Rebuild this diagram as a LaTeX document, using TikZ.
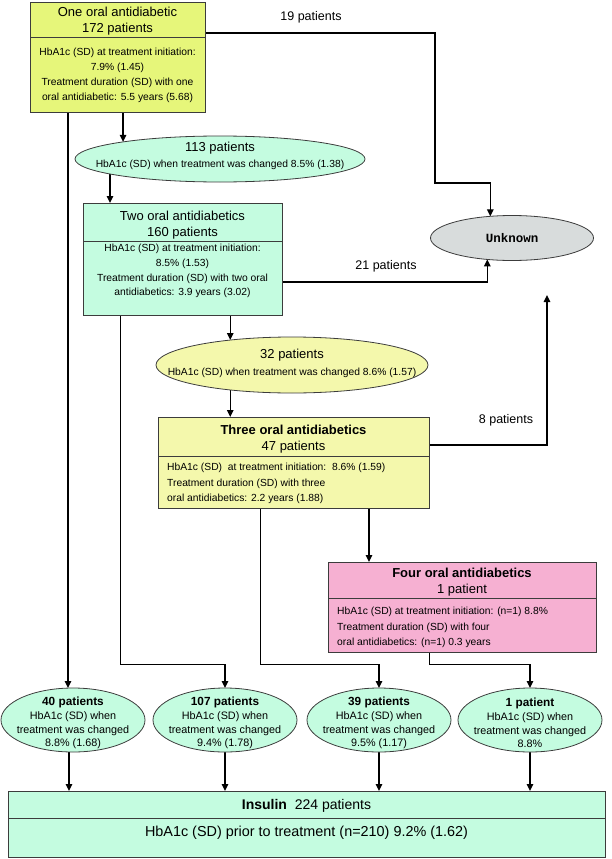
\documentclass[tikz,border=0pt]{standalone}
\usepackage{fontspec}
\setmainfont{Liberation Sans}
\newfontfamily\unkfont{Liberation Mono}
\usetikzlibrary{shapes.geometric,arrows.meta,calc}
\pgfdeclarelayer{bg}
\pgfsetlayers{bg,main}
\definecolor{cYG}{RGB}{230,246,122}
\definecolor{cMint}{RGB}{196,252,224}
\definecolor{cLY}{RGB}{244,248,172}
\definecolor{cPink}{RGB}{246,176,210}
\definecolor{cGray}{RGB}{216,220,220}
\definecolor{cEdge}{RGB}{60,60,60}
\begin{document}
\begin{tikzpicture}[x=1pt,y=-1pt,
  box/.style={draw=cEdge, line width=0.9pt, rectangle, inner sep=0pt, outer sep=0pt},
  oval/.style={draw=cEdge, line width=0.8pt, ellipse, inner sep=0pt, outer sep=0pt},
  divider/.style={draw=cEdge, line width=0.9pt},
  ttl/.style={font=\fontsize{13}{16}\selectfont, align=center, inner sep=0pt},
  bdy/.style={font=\fontsize{10.3}{15}\selectfont, align=center, inner sep=0pt},
  bdyl/.style={font=\fontsize{10.3}{15.5}\selectfont, align=left, inner sep=0pt, anchor=west},
  ovt/.style={font=\fontsize{10.8}{13.7}\selectfont, align=center, inner sep=0pt},
  conn/.style={line width=1.3pt, -{Triangle[length=7pt,width=6.5pt]}},
  thin/.style={line width=1pt},
  lbl/.style={font=\fontsize{12.5}{15}\selectfont, inner sep=0pt}
]
\useasboundingbox (0,0) rectangle (611,859);

% ---------- boxes ----------
\node[box, fill=cYG, minimum width=175pt, minimum height=110pt] (b1) at (117.5,57) {};
\draw[divider] (b1.west |- 0,37) -- (b1.east |- 0,37);
\node[ttl] (b1t) at (117.5,21) {One oral antidiabetic\\172 patients};
\node[bdy] (b1b) at (117.5,75) {HbA1c (SD) at treatment initiation:\\7.9\% (1.45)\\Treatment duration (SD) with one\\oral antidiabetic: 5.5 years (5.68)};

\node[box, fill=cMint, minimum width=199pt, minimum height=112pt] (b2) at (182.5,259) {};
\draw[divider] (b2.west |- 0,241) -- (b2.east |- 0,241);
\node[ttl] (b2t) at (182.5,225) {Two oral antidiabetics\\160 patients};
\node[bdy, font=\fontsize{10.3}{14.7}\selectfont] (b2b) at (182.5,271) {HbA1c (SD) at treatment initiation:\\8.5\% (1.53)\\Treatment duration (SD) with two oral\\antidiabetics: 3.9 years (3.02)};

\node[box, fill=cLY, minimum width=271pt, minimum height=91pt] (b3) at (293.5,462.5) {};
\draw[divider] (b3.west |- 0,456) -- (b3.east |- 0,456);
\node[ttl] (b3t) at (293.5,439) {\textbf{Three oral antidiabetics}\\47 patients};
\node[bdyl] (b3b) at (167,483.5) {HbA1c (SD)\ \ at treatment initiation:\ \ 8.6\% (1.59)\\Treatment duration (SD) with three\\oral antidiabetics: 2.2 years (1.88)};

\node[box, fill=cPink, minimum width=268pt, minimum height=90pt] (b4) at (462,607) {};
\draw[divider] (b4.west |- 0,598) -- (b4.east |- 0,598);
\node[ttl] (b4t) at (462,582.5) {\textbf{Four oral antidiabetics}\\1 patient};
\node[bdyl] (b4b) at (337,627.5) {HbA1c (SD) at treatment initiation: (n=1) 8.8\%\\Treatment duration (SD) with four\\oral antidiabetics: (n=1) 0.3 years};

\node[box, fill=cMint, minimum width=597pt, minimum height=66pt] (ins) at (306.5,824) {};
\draw[divider] (ins.west |- 0,818) -- (ins.east |- 0,818);
\node[inner sep=0pt, font=\fontsize{14}{16}\selectfont] (inst) at (306.5,806) {\textbf{Insulin}\ \ 224 patients};
\node[inner sep=0pt, font=\fontsize{14.4}{16}\selectfont] (insb) at (306.5,833) {HbA1c (SD) prior to treatment (n=210) 9.2\% (1.62)};

% ---------- ellipses ----------
\node[oval, fill=cMint, minimum width=290pt, minimum height=46pt] (e113) at (220,159) {};
\node[inner sep=0pt, align=center, font=\fontsize{10.3}{16}\selectfont] (e113t) at (220,156) {{\fontsize{13}{16}\selectfont 113 patients}\\HbA1c (SD) when treatment was changed 8.5\% (1.38)};

\node[oval, fill=cLY, minimum width=272pt, minimum height=56pt] (e32) at (292,365) {};
\node[inner sep=0pt, align=center, font=\fontsize{10.3}{17}\selectfont] (e32t) at (292,363) {{\fontsize{13}{17}\selectfont 32 patients}\\HbA1c (SD) when treatment was changed 8.6\% (1.57)};

\node[oval, fill=cGray, minimum width=163pt, minimum height=45pt] (unk) at (512,238) {};
\node[inner sep=0pt, font=\unkfont\bfseries\fontsize{12.5}{14}\selectfont] (unkt) at (512,238) {Unknown};

\node[oval, fill=cMint, minimum width=144pt, minimum height=64pt] (e1) at (73,720) {};
\node[ovt] (e1t) at (73,723) {{\bfseries\fontsize{11.8}{13.7}\selectfont 40 patients}\\HbA1c (SD) when\\treatment was changed\\8.8\% (1.68)};

\node[oval, fill=cMint, minimum width=144pt, minimum height=64pt] (e2) at (225,720) {};
\node[ovt] (e2t) at (225,723) {{\bfseries\fontsize{11.8}{13.7}\selectfont 107 patients}\\HbA1c (SD) when\\treatment was changed\\9.4\% (1.78)};

\node[oval, fill=cMint, minimum width=144pt, minimum height=64pt] (e3) at (379,720) {};
\node[ovt] (e3t) at (379,723) {{\bfseries\fontsize{11.8}{13.7}\selectfont 39 patients}\\HbA1c (SD) when\\treatment was changed\\9.5\% (1.17)};

\node[oval, fill=cMint, minimum width=144pt, minimum height=64pt] (e4) at (530,720) {};
\node[ovt] (e4t) at (530,723) {{\bfseries\fontsize{11.8}{13.7}\selectfont 1 patient}\\HbA1c (SD) when\\treatment was changed\\8.8\%};

% ---------- labels ----------
\node[lbl] (l19) at (311,17) {19 patients};
\node[lbl] (l21) at (386,266) {21 patients};
\node[lbl] (l8) at (506,420) {8 patients};

\coordinate (up8) at (547,295);

% ---------- connectors ----------
\begin{pgfonlayer}{bg}
\draw[conn] (b1.south -| e113.170.5) -- (e113.170.5);
\draw[conn] (e113.center -| 110,0) -- (b2.north -| 110,0);
\draw[conn] (b1.south -| 68,0) -- (e1.north -| 68,0);
\draw[conn] (b1.east |- 0,33) -- (435,33) -- (435,183) -- (unk.135.45 |- 0,183) -- (unk.135.45);
\draw[conn] (b2.south -| e32.158.9) -- (e32.158.9);
\draw[conn] (e32.center -| e32.158.9) -- (b3.north -| e32.158.9);
\draw[conn] (b2.east |- 0,282) -- (unk.221.86 |- 0,282) -- (unk.221.86);
\draw[conn] (b3.east |- 0,445) -- (up8 |- 0,445) -- (up8);
\draw[thin] (b2.south -| 120,0) -- (120,664) -- (e2.north |- 0,664);
\draw[conn] (e2.north |- 0,664) -- (e2.north);
\draw[thin] (b3.south -| 260,0) -- (260,664) -- (e3.north |- 0,664);
\draw[conn] (e3.north |- 0,664) -- (e3.north);
\draw[conn] (b3.south -| 369,0) -- (b4.north -| 369,0);
\draw[thin] (b4.south -| 429,0) -- (429,664) -- (e4.north |- 0,664);
\draw[conn] (e4.north |- 0,664) -- (e4.north);
\draw[conn] (e1.south -| 69,0) -- (ins.north -| 69,0);
\draw[conn] (e2.south) -- (e2.south |- ins.north);
\draw[conn] (e3.south) -- (e3.south |- ins.north);
\draw[conn] (e4.south) -- (e4.south |- ins.north);
\end{pgfonlayer}
\end{tikzpicture}
\end{document}
